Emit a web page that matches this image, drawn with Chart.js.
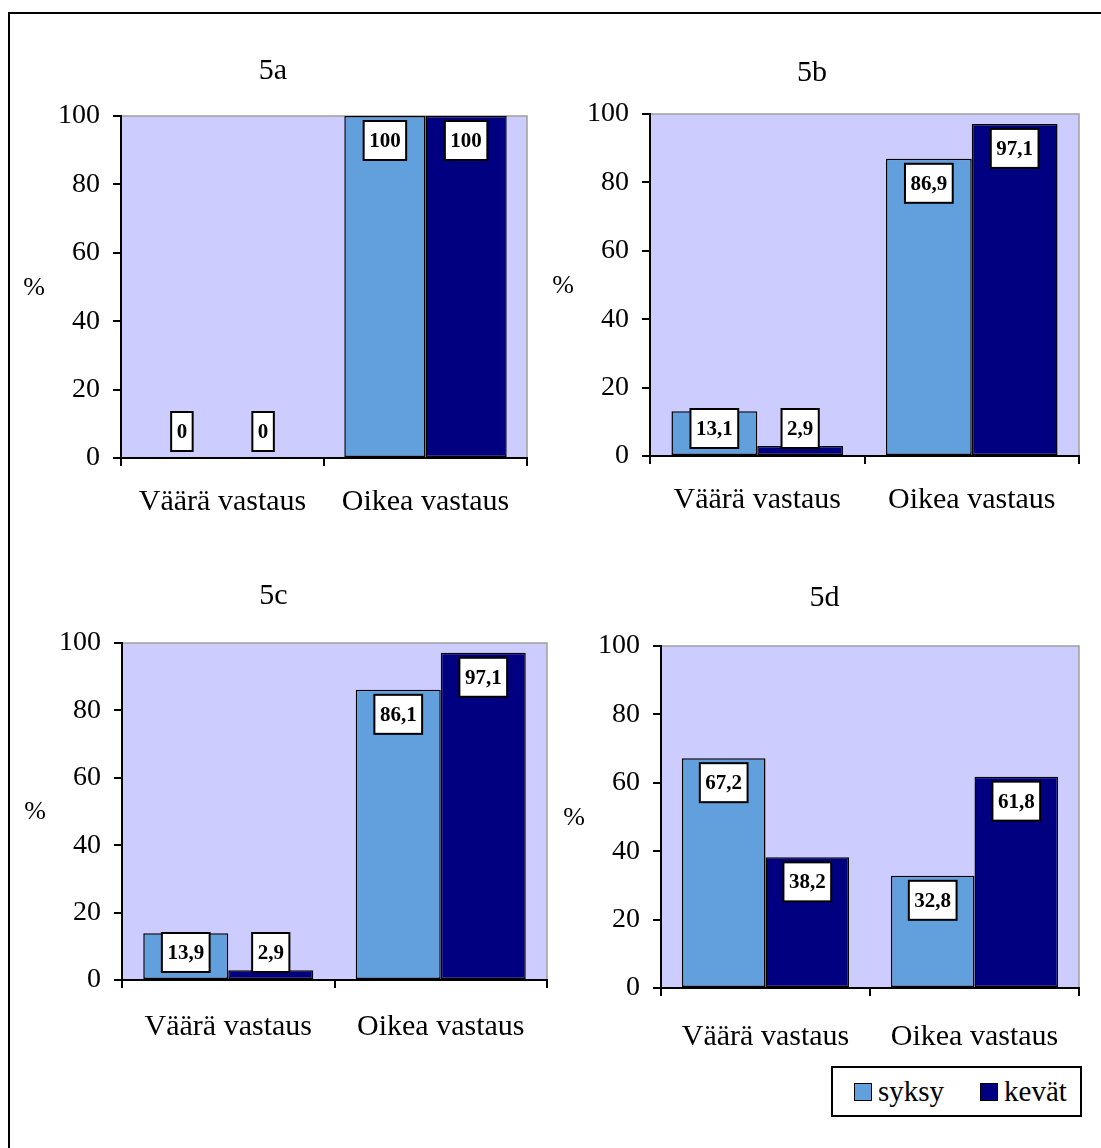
<!DOCTYPE html>
<html lang="fi">
<head>
<meta charset="utf-8">
<title>5a–5d</title>
<script src="https://cdn.jsdelivr.net/npm/chart.js@4/dist/chart.umd.min.js"></script>
<style>
  html, body { margin: 0; padding: 0; background: #fff; }
  body { width: 1101px; height: 1148px; position: relative; overflow: hidden;
         font-family: 'Liberation Serif', 'Times New Roman', serif; }
  .frame { position: absolute; left: 8px; top: 12px; width: 1200px; height: 1200px;
           border: 2px solid #000; box-sizing: border-box; }
  .panel { position: absolute; }
  .panel canvas { display: block; }
  .legend { position: absolute; left: 831px; top: 1066px; width: 251px; height: 51px;
            border: 2px solid #000; box-sizing: border-box; background: #fff;
            display: flex; align-items: center; font-size: 29px; color: #000; }
  .legend .item { display: flex; align-items: center; }
  .legend .swatch { width: 16px; height: 16px; border: 1.5px solid #000; margin-right: 6px; }
</style>
</head>
<body>
<div class="frame"></div>
<div id="panels"></div>
<div class="legend" id="legend"></div>

<script>
// ---- data ----
const categories = ['Väärä vastaus', 'Oikea vastaus'];
const seriesNames = ['syksy', 'kevät'];
const chartTitles = ['5a', '5b', '5c', '5d'];
const syksy5a = [0, 100];
const kevat5a = [0, 100];
const syksy5b = [13.1, 86.9];
const kevat5b = [2.9, 97.1];
const syksy5c = [13.9, 86.1];
const kevat5c = [2.9, 97.1];
const syksy5d = [67.2, 32.8];
const kevat5d = [38.2, 61.8];
const yTicks = [0, 20, 40, 60, 80, 100];
const axisUnit = '%';

// ---- styles ----
const FONT = "'Liberation Serif', 'Times New Roman', serif";
const COLORS = ['#629FDD', '#000080'];
const PLOT_BG = '#CCCCFF';
const PLOT_EDGE = '#A0A0A0';

// ---- panel geometry: canvas box, plot edges, title centre, category label gap (page px) ----
const panels = [
  { title: chartTitles[0], s: syksy5a, k: kevat5a, cx: 0,   cy: 20,  w: 545, h: 520, L: 121, R: 527,  T: 116, B: 458, tx: 273,   ty: 71,  xGap: 18 },
  { title: chartTitles[1], s: syksy5b, k: kevat5b, cx: 540, cy: 20,  w: 545, h: 520, L: 650, R: 1079, T: 114, B: 456, tx: 812,   ty: 73,  xGap: 18 },
  { title: chartTitles[2], s: syksy5c, k: kevat5c, cx: 0,   cy: 550, w: 560, h: 510, L: 122, R: 547,  T: 643, B: 980, tx: 273.5, ty: 596, xGap: 21 },
  { title: chartTitles[3], s: syksy5d, k: kevat5d, cx: 540, cy: 550, w: 545, h: 510, L: 661, R: 1079, T: 646, B: 988, tx: 824.5, ty: 598, xGap: 23 }
];

const TITLE_SIZE = 30, LINE_H = 1.2, X_AXIS_H = 70;

const fmt = v => String(v).replace('.', ',');

// plot background, grey top/right edge, unit label and boxed value labels
const panelPlugin = {
  id: 'panelDecor',
  beforeDraw(chart) {
    const { ctx, chartArea: a } = chart;
    ctx.save();
    ctx.fillStyle = PLOT_BG;
    ctx.fillRect(a.left, a.top, a.right - a.left, a.bottom - a.top);
    ctx.strokeStyle = PLOT_EDGE;
    ctx.lineWidth = 1.5;
    ctx.beginPath();
    ctx.moveTo(a.left, a.top);
    ctx.lineTo(a.right, a.top);
    ctx.lineTo(a.right, a.bottom);
    ctx.stroke();
    // unit label left of the value axis
    ctx.fillStyle = '#000';
    ctx.font = `26px ${FONT}`;
    ctx.textAlign = 'center';
    ctx.textBaseline = 'middle';
    ctx.fillText(axisUnit, a.left - 87, (a.top + a.bottom) / 2 + 1);
    ctx.restore();
  },
  afterDatasetsDraw(chart) {
    const { ctx } = chart;
    ctx.save();
    ctx.font = `bold 21px ${FONT}`;
    ctx.textAlign = 'center';
    ctx.textBaseline = 'middle';
    chart.data.datasets.forEach((ds, di) => {
      const meta = chart.getDatasetMeta(di);
      meta.data.forEach((bar, i) => {
        const text = fmt(ds.data[i]);
        const w = ctx.measureText(text).width + 11;
        const h = 39;
        const top = Math.min(bar.y + 5, bar.base - 46);
        const left = bar.x - w / 2;
        ctx.fillStyle = '#fff';
        ctx.fillRect(left, top, w, h);
        ctx.strokeStyle = '#000';
        ctx.lineWidth = 2;
        ctx.strokeRect(left, top, w, h);
        ctx.fillStyle = '#000';
        ctx.fillText(text, bar.x, top + h / 2 + 1);
      });
    });
    ctx.restore();
  }
};

const host = document.getElementById('panels');

panels.forEach(p => {
  const div = document.createElement('div');
  div.className = 'panel';
  div.style.left = p.cx + 'px';
  div.style.top = p.cy + 'px';
  const canvas = document.createElement('canvas');
  canvas.width = p.w; canvas.height = p.h;
  canvas.style.width = p.w + 'px'; canvas.style.height = p.h + 'px';
  div.appendChild(canvas);
  host.appendChild(div);

  // layout padding so that the plot area and the title land where wanted
  const R = p.R - p.cx, L = p.L - p.cx, tc = p.tx - p.cx;
  const padLeft = Math.max(0, 2 * tc - R);
  const padRight = p.w - R;
  const yWidth = L - padLeft;
  const titleTop = (p.ty - p.cy) - TITLE_SIZE * LINE_H / 2;
  const titleBottom = (p.T - p.cy) - titleTop - TITLE_SIZE * LINE_H;
  const padBottom = p.h - (p.B - p.cy) - X_AXIS_H;

  new Chart(canvas, {
    type: 'bar',
    data: {
      labels: categories,
      datasets: [
        { label: seriesNames[0], data: p.s, backgroundColor: COLORS[0] },
        { label: seriesNames[1], data: p.k, backgroundColor: COLORS[1] }
      ]
    },
    options: {
      responsive: false,
      animation: false,
      devicePixelRatio: 1,
      layout: { padding: { left: padLeft, right: padRight, top: 0, bottom: padBottom } },
      datasets: {
        bar: {
          categoryPercentage: 0.8,
          barPercentage: 1.0,
          borderColor: '#000',
          borderWidth: 1.5,
          borderSkipped: false
        }
      },
      plugins: {
        legend: { display: false },
        tooltip: { enabled: false },
        title: {
          display: true,
          text: p.title,
          color: '#000',
          font: { family: FONT, size: TITLE_SIZE, weight: 'normal', lineHeight: LINE_H },
          padding: { top: titleTop, bottom: titleBottom }
        }
      },
      scales: {
        x: {
          z: 1,
          offset: true,
          grid: { offset: true, drawOnChartArea: false, drawTicks: true, tickLength: 8, color: '#000', lineWidth: 2 },
          border: { display: true, color: '#000', width: 2 },
          ticks: { color: '#000', padding: p.xGap, maxRotation: 0, font: { family: FONT, size: 30, lineHeight: LINE_H } },
          afterFit(scale) { scale.height = X_AXIS_H; }
        },
        y: {
          z: 1,
          min: yTicks[0],
          max: yTicks[yTicks.length - 1],
          grid: { drawOnChartArea: false, drawTicks: true, tickLength: 8, color: '#000', lineWidth: 2 },
          border: { display: true, color: '#000', width: 2 },
          ticks: { stepSize: yTicks[1] - yTicks[0], color: '#000', padding: 13, font: { family: FONT, size: 28, lineHeight: LINE_H } },
          afterFit(scale) { scale.width = yWidth; }
        }
      }
    },
    plugins: [panelPlugin]
  });
});

// shared legend for both series
const legend = document.getElementById('legend');
seriesNames.forEach((name, i) => {
  const item = document.createElement('span');
  item.className = 'item';
  item.style.marginLeft = i === 0 ? '21px' : '36px';
  const sw = document.createElement('span');
  sw.className = 'swatch';
  sw.style.background = COLORS[i];
  const tx = document.createElement('span');
  tx.textContent = name;
  item.appendChild(sw);
  item.appendChild(tx);
  legend.appendChild(item);
});
</script>
</body>
</html>
